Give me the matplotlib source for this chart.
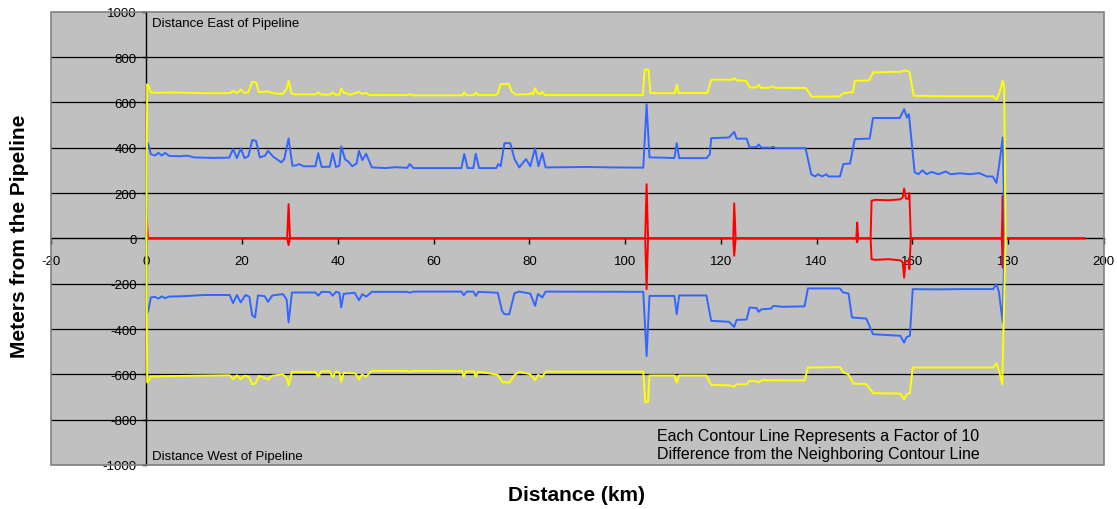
import matplotlib
matplotlib.use('Agg')
import matplotlib.pyplot as plt
from matplotlib.patches import Rectangle

plt.rcParams['font.family'] = ['Liberation Sans', 'DejaVu Sans']
plt.rcParams['axes.unicode_minus'] = False

# east side (upper) contours
yellow_up_x = [0, 0.15, 0.5, 0.9, 2.5, 5, 10, 15, 17.5, 18.1, 18.9, 19.7, 20.5, 21.3, 22.1, 22.9, 23.5, 25.4,
               26.5, 28.5, 29.3, 29.7, 30.3, 31, 35.3, 35.9, 36.5, 38.3, 38.9, 39.5, 40.3, 40.7, 41.2, 41.8,
               42.5, 44.4, 45.1, 45.9, 46.6, 54.5, 55, 55.6, 66, 66.4, 66.9, 68.5, 68.8, 69.3, 73, 73.4, 74,
               75.7, 76.3, 77.2, 80, 80.4, 80.8, 81.2, 81.7, 82.3, 82.7, 83.2, 103.7, 104.1, 104.9, 105.3,
               110.4, 110.8, 111.2, 117.2, 118, 122.4, 122.8, 123.3, 125.3, 126, 127.5, 127.9, 128.4, 130,
               130.9, 131.5, 137.8, 139, 144.8, 145.5, 147.6, 148, 151, 151.8, 157.7, 158.3, 159.4, 160.3,
               166, 176.9, 177.6, 178.2, 178.9, 179.2, 179.5]
yellow_up_y = [0, 680, 670, 644, 642, 644, 641, 640, 641, 651, 641, 656, 641, 645, 691, 688, 645, 648,
               640, 637, 660, 695, 640, 635, 635, 644, 634, 634, 644, 633, 634, 662, 642, 640,
               633, 646, 637, 642, 632, 632, 636, 631, 631, 644, 631, 632, 644, 632, 632, 640, 680,
               682, 648, 634, 636, 642, 635, 662, 640, 637, 646, 632, 632, 744, 744, 641,
               640, 678, 641, 641, 700, 700, 708, 697, 695, 666, 666, 678, 664, 664,
               670, 664, 663, 625, 626, 640, 645, 695, 697, 732, 735, 741, 736, 629,
               627, 627, 612, 640, 695, 670, 0]

blue_up_x = [0, 0.15, 0.5, 0.9, 1.8, 2.5, 3.2, 3.9, 4.7, 7, 8.5, 10, 14, 17.3, 18.1, 18.9, 19.7, 20.5,
             21.3, 22.1, 22.9, 23.7, 24.8, 25.4, 26.5, 27.5, 28.2, 28.8, 29.3, 29.7, 30.5, 31.3, 31.9,
             32.8, 35.3, 35.9, 36.6, 38.3, 38.9, 39.6, 40.3, 40.7, 41.5, 42.1, 43, 43.9, 44.4, 45.1,
             45.9, 47.1, 50, 52, 54.5, 55, 55.8, 65.8, 66.4, 67.1, 68.3, 68.8, 69.5, 73.1, 73.5, 74,
             74.8, 76, 76.9, 77.9, 79.3, 80.2, 81.2, 81.9, 82.7, 83.4, 88, 92, 97, 103.8, 104.5, 105.1,
             108, 110.3, 110.8, 111.3, 117, 117.7, 118, 121.7, 122.8, 123.3, 125.4, 126, 127.5, 127.9,
             128.5, 130.5, 130.9, 131.5, 137.7, 138.9, 139.7, 140.3, 141.2, 142, 142.5, 144.9, 145.6,
             147, 148, 151.1, 151.8, 157.4, 158.3, 158.9, 159.3, 160.5, 161.3, 162.1, 163, 164, 165.5,
             167, 168, 170, 172, 174, 175.6, 176.8, 177.6, 178.2, 178.9, 179.3]
blue_up_y = [0, 423, 410, 372, 365, 378, 365, 377, 364, 362, 365, 357, 355, 356, 394, 354, 397, 354,
             362, 434, 430, 357, 365, 386, 360, 345, 335, 350, 400, 441, 320, 322, 328,
             318, 318, 376, 315, 316, 376, 315, 320, 406, 348, 340, 318, 330, 386, 345,
             373, 313, 310, 314, 311, 328, 310, 310, 372, 310, 310, 373, 310, 310, 328, 318,
             420, 420, 350, 313, 350, 318, 398, 318, 376, 313, 314, 315, 313, 312, 592, 357,
             356, 354, 420, 354, 354, 370, 442, 445, 470, 440, 440, 401, 403, 414,
             400, 400, 404, 398, 398, 283, 273, 283, 273, 283, 273, 273, 328,
             330, 438, 440, 531, 531, 570, 533, 548, 291, 283, 300, 283, 293, 283,
             295, 283, 287, 283, 288, 273, 273, 244, 330, 445, 0]

red_up_x = [0, 0.1, 0.3, 29.4, 29.7, 30.0, 104.2, 104.5, 104.8, 122.6, 122.8, 123.1, 148.3, 148.5,
            148.7, 151.3, 151.5, 152.3, 155, 157.5, 158.0, 158.3, 158.7, 159.2, 159.4, 159.7, 178.7,
            178.9, 179.1, 196]
red_up_y = [0, 77, 0, 0, 151, 0, 0, 239, 0, 0, 155, 0, 0, 70,
            0, 0, 166, 170, 168, 172, 180, 220, 175, 175, 200, 0, 0,
            188, 0, 0]

# west side (lower) contours
red_dn_x = [0, 29.4, 29.7, 30, 104.2, 104.5, 104.8, 122.6, 122.8, 123.1, 148.3, 148.5, 148.7, 151.3,
            151.5, 152.3, 155, 157.5, 158.0, 158.3, 158.6, 159.2, 159.4, 159.7, 178.7, 178.9, 179.1, 196]
red_dn_y = [0, 0, -30, 0, 0, -224, 0, 0, -77, 0, 0, -18, 0, 0,
            -92, -95, -92, -97, -105, -173, -100, -100, -136, 0, 0, -129, 0, 0]

blue_dn_x = [0, 0.15, 0.5, 0.9, 1.8, 2.5, 3.2, 3.9, 4.7, 8, 12, 17.4, 18.1, 18.9, 19.7, 20.7, 21.5,
             22.1, 22.7, 23.3, 24.7, 25.4, 26.3, 28.5, 29.3, 29.7, 30.4, 35.3, 35.9, 36.6, 38.3, 38.9,
             39.6, 40.3, 40.7, 41.2, 43.5, 44.4, 45.1, 45.9, 47.1, 54.5, 55, 55.8, 65.8, 66.3, 66.9,
             68.3, 68.8, 69.4, 73.4, 74.3, 74.8, 75.8, 76.9, 77.9, 80.2, 81.2, 81.8, 82.7, 83.4, 103.8,
             104.5, 105.1, 110.3, 110.8, 111.3, 117, 118, 121.7, 122.8, 123.3, 125.4, 126, 127.5, 127.9,
             128.5, 130.5, 131, 133, 137.5, 138.2, 144.9, 145.5, 146.7, 147.4, 150.4, 151.8, 157.5,
             158.3, 158.8, 159.5, 160.1, 165, 170, 176.9, 177.6, 178.1, 178.9, 179.3]
blue_dn_y = [0, -330, -310, -261, -258, -266, -256, -264, -257, -255, -250, -250, -286, -250, -283, -250, -258,
             -340, -349, -252, -255, -280, -252, -246, -270, -371, -239, -239, -253, -236, -237, -253,
             -236, -240, -305, -245, -240, -273, -246, -257, -236, -236, -240, -235, -235, -251, -235,
             -235, -254, -236, -240, -320, -335, -335, -242, -235, -244, -298, -245, -261, -235, -236,
             -519, -254, -254, -335, -252, -252, -364, -368, -391, -360, -358, -305, -308, -324,
             -313, -310, -298, -302, -300, -221, -221, -238, -244, -349, -354, -423, -430,
             -460, -436, -430, -224, -225, -224, -224, -202, -236, -371, 0]

yellow_dn_x = [0, 0.15, 0.6, 0.9, 5, 10, 17.4, 18.1, 18.9, 19.7, 20.5, 21.4, 22.1, 22.8, 23.5, 25.4,
               26.3, 28.5, 29.3, 29.7, 30.4, 35.3, 35.9, 36.5, 38.3, 38.9, 39.6, 40.3, 40.7, 41.2, 43.7,
               44.4, 45, 45.9, 47.1, 54.5, 55, 55.6, 65.9, 66.3, 66.8, 68.4, 68.8, 69.3, 73.4, 74.4, 75.8,
               76.9, 77.9, 80.2, 81.2, 81.8, 82.7, 83.4, 103.8, 104.2, 104.8, 105.1, 110.3, 110.8, 111.3,
               117, 118, 121.7, 122.8, 123.3, 125.4, 126, 127.5, 127.9, 128.5, 137.5, 138.2, 144.9,
               145.6, 146.7, 147.7, 150.4, 151.8, 157.5, 158.3, 158.8, 159.5, 160.1, 176.9, 177.6,
               178.2, 178.8, 179.5]
yellow_dn_y = [0, -636, -625, -610, -608, -606, -604, -622, -604, -622, -606, -610, -644, -640, -607, -622,
               -606, -600, -615, -648, -589, -589, -610, -587, -587, -612, -587, -592, -633, -594, -596,
               -622, -601, -610, -585, -585, -590, -585, -586, -610, -587, -587, -610, -588, -602, -634, -636,
               -604, -588, -600, -626, -602, -612, -588, -588, -722, -722, -605, -605, -636, -605,
               -605, -647, -649, -654, -644, -644, -629, -631, -636, -626, -627, -570, -568,
               -592, -600, -641, -643, -683, -685, -710, -688, -683, -570, -570, -551,
               -590, -644, 0]

x_ticks = list(range(-20, 201, 20))
y_ticks = list(range(-1000, 1001, 200))

fig = plt.figure(figsize=(11.17, 5.10), dpi=100)
ax = fig.add_axes([0.0454, 0.0863, 0.9427, 0.8888])
ax.set_facecolor('#C0C0C0')

ax.plot(red_up_x, red_up_y, color='#FF0000', lw=1.4, zorder=3)
ax.plot(red_dn_x, red_dn_y, color='#FF0000', lw=1.4, zorder=3)
ax.plot(blue_up_x, blue_up_y, color='#3366FF', lw=1.4, zorder=4)
ax.plot(blue_dn_x, blue_dn_y, color='#3366FF', lw=1.4, zorder=4)
ax.plot(yellow_up_x, yellow_up_y, color='#FFFF00', lw=1.4, zorder=5)
ax.plot(yellow_dn_x, yellow_dn_y, color='#FFFF00', lw=1.4, zorder=5)

ax.set_xlim(-20, 200)
ax.set_ylim(-1000, 1000)
ax.set_xticks(x_ticks)
ax.set_yticks(y_ticks)

# axes cross at the origin, like the spreadsheet chart
ax.spines['left'].set_position(('data', 0))
ax.spines['bottom'].set_position(('data', 0))
ax.spines['top'].set_visible(False)
ax.spines['right'].set_visible(False)
for s in ('left', 'bottom'):
    ax.spines[s].set_color('black')
    ax.spines[s].set_linewidth(1.0)
    ax.spines[s].set_zorder(2.5)
ax.tick_params(axis='x', direction='out', length=4, width=1, pad=8, labelsize=9.5)
ax.tick_params(axis='y', direction='out', length=3, width=1, pad=4, labelsize=9.5)

ax.yaxis.grid(True, color='black', lw=0.9, zorder=1)
ax.set_axisbelow(True)
for gl, v in zip(ax.get_ygridlines(), y_ticks):
    if abs(v) == 1000 or v == 0:
        gl.set_visible(False)

ax.add_patch(Rectangle((0, 0), 1, 1, transform=ax.transAxes, fill=False,
                       edgecolor='#808080', lw=1.2, zorder=6, clip_on=False))

ax.text(1.1, 949, 'Distance East of Pipeline', fontsize=9.5, va='center', ha='left')
ax.text(1.1, -960, 'Distance West of Pipeline', fontsize=9.5, va='center', ha='left')
ax.text(106.6, -908, 'Each Contour Line Represents a Factor of 10\n'
        'Difference from the Neighboring Contour Line',
        fontsize=11.5, va='center', ha='left', linespacing=1.25)

fig.text(20 / 1117, 1 - 236 / 510, 'Meters from the Pipeline', rotation=90,
         fontsize=15, fontweight='bold', ha='center', va='center')
fig.text(577 / 1117, 1 - 496 / 510, 'Distance (km)', fontsize=15, fontweight='bold',
         ha='center', va='center')

fig.savefig('out.png', dpi=100)
